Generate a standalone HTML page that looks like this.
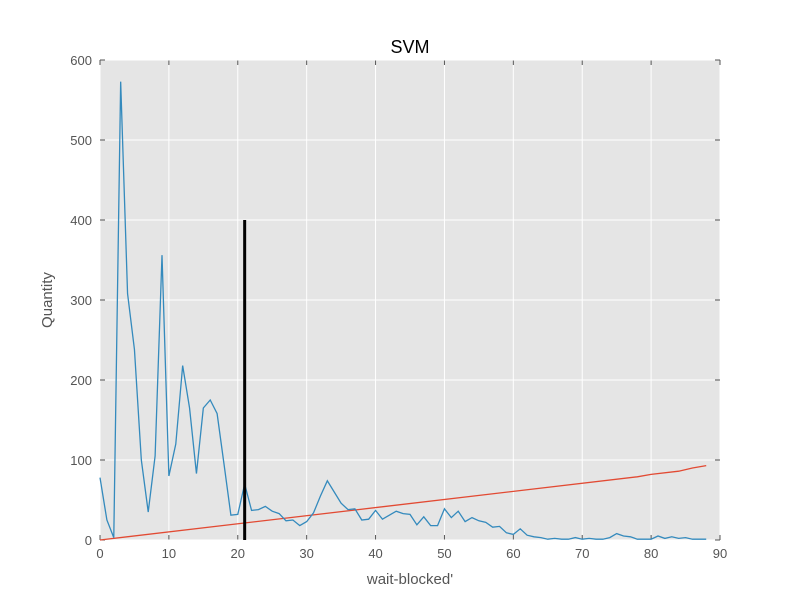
<!DOCTYPE html>
<html><head><meta charset="utf-8"><style>
body{margin:0;background:#fff;}
svg{display:block;font-family:"Liberation Sans",sans-serif;}
</style></head><body>
<svg id="c" width="800" height="600"></svg>
<script>
const blueX = Array.from({length:89},(_,i)=>i);
const blueY = [78,25,3,573,308,238,100,35,105,356,80,120,218,165,83,165,175,158,95,31,32,70,37,38,42,36,33,24,25,18,23,34,55,74,60,46,38,39,25,26,37,26,31,36,33,32,19,29,18,18,39,28,36,23,28,24,22,16,17,9,7,14,6,4,3,1,2,1,1,3,1,2,1,1,3,8,5,4,1,1,1,5,2,4,2,3,1,1,1];
const redX = [0,78,80,84,86,88];
const redY = [0,79,82,86,90,93];
const markerX = 21, markerTop = 400;
const xTicks = [0,10,20,30,40,50,60,70,80,90];
const yTicks = [0,100,200,300,400,500,600];

const L=100,R=720,T=60,B=540;
const sx=v=>L+(v-0)/(90)*(R-L);
const sy=v=>B-(v/600)*(B-T);
const svg=document.getElementById('c');
const NS='http://www.w3.org/2000/svg';
function add(tag,attrs,parent){const e=document.createElementNS(NS,tag);for(const k in attrs)e.setAttribute(k,attrs[k]);(parent||svg).appendChild(e);return e;}

const bg=add('rect',{x:L,y:T,width:R-L,height:B-T,fill:'#e5e5e5'});



xTicks.forEach(t=>{
  const g=add('line',{x1:sx(t),x2:sx(t),y1:T,y2:B,stroke:'#fff','stroke-width':1});
  
  
  add('line',{x1:sx(t),x2:sx(t),y1:B,y2:B-5,stroke:'#555'});
  add('line',{x1:sx(t),x2:sx(t),y1:T,y2:T+5,stroke:'#555'});
  const tx=add('text',{x:sx(t),y:B+18,'text-anchor':'middle','font-size':13,fill:'#555'});
  tx.textContent=t;
  
  
});
yTicks.forEach(t=>{
  const g=add('line',{x1:L,x2:R,y1:sy(t),y2:sy(t),stroke:'#fff','stroke-width':1});
  
  
  add('line',{x1:L,x2:L+5,y1:sy(t),y2:sy(t),stroke:'#555'});
  add('line',{x1:R,x2:R-5,y1:sy(t),y2:sy(t),stroke:'#555'});
  const tx=add('text',{x:L-8,y:sy(t)+5,'text-anchor':'end','font-size':13,fill:'#555'});
  tx.textContent=t;
  
  
});

const red=add('polyline',{points:redX.map((x,i)=>sx(x)+','+sy(redY[i])).join(' '),fill:'none',stroke:'#e24a33','stroke-width':1.3});



const blue=add('polyline',{points:blueX.map((x,i)=>sx(x)+','+sy(blueY[i])).join(' '),fill:'none',stroke:'#348abd','stroke-width':1.3});



const mk=add('line',{x1:sx(markerX),x2:sx(markerX),y1:sy(0),y2:sy(markerTop),stroke:'#000','stroke-width':3});



const title=add('text',{x:410,y:53,'text-anchor':'middle','font-size':18,fill:'#000'});
title.textContent='SVM';



const xl=add('text',{x:410,y:584,'text-anchor':'middle','font-size':15,fill:'#555'});
xl.textContent="wait-blocked'";



const yl=add('text',{x:52,y:300,'text-anchor':'middle','font-size':15,fill:'#555',transform:'rotate(-90 52 300)'});
yl.textContent='Quantity';


</script>
</body></html>
